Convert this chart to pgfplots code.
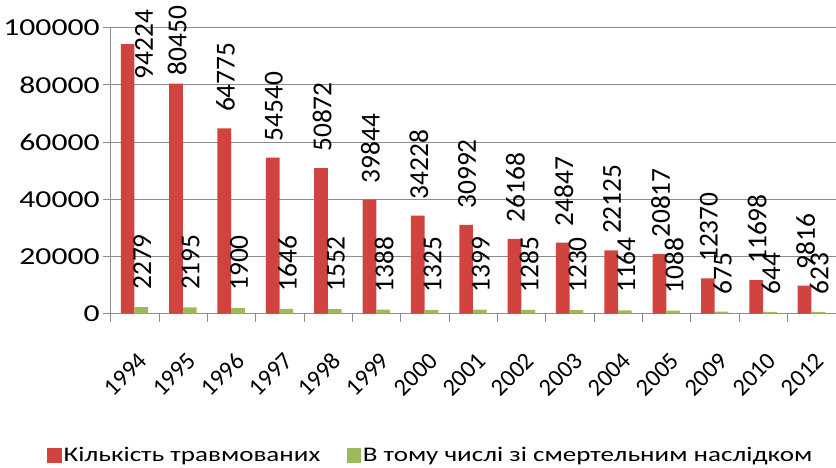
\documentclass[border=0pt]{standalone}
\usepackage{pgfplots}
\usepackage{pgfplotstable}
\pgfplotsset{compat=1.18}
\usepackage{fontspec}
\setmainfont{Carlito}
\newfontfamily\widefont{Carlito}[FakeStretch=1.3]
\definecolor{barred}{HTML}{D0433F}
\definecolor{bargreen}{HTML}{9BBB59}
\definecolor{gridgray}{HTML}{8C8C8C}
\pgfplotstableread{
x y dx dy
0 94224 16 -36
1 80450 1 7
2 64775 1 15
3 54540 1 15
4 50872 1 15
5 39844 1 15
6 34228 1 15
7 30992 1 15
8 26168 1 15
9 24847 1 15
10 22125 1 15
11 20817 1 15
12 12370 1 15
13 11698 1 15
14 9816 1 15
}\injured
\pgfplotstableread{
x y dx dy
0 2279 1 16
1 2195 1 16
2 1900 1 16
3 1646 1 16
4 1552 1 16
5 1388 1 16
6 1325 1 16
7 1399 1 16
8 1285 1 16
9 1230 1 16
10 1164 1 16
11 1088 1 16
12 675 1 16
13 644 1 16
14 623 1 16
}\fatal
\begin{document}
\begin{tikzpicture}
\begin{axis}[
  scale only axis,
  width=715pt, height=282pt,
  title={\strut},
  title style={at={(0.5,1)}, anchor=south, yshift=0pt, minimum height=21pt, inner sep=0pt, text opacity=0},
  /pgf/number format/fixed,
  /pgf/number format/1000 sep={},
  /pgf/number format/assume math mode=true,
  ybar=0pt, bar width=13.5pt,
  xmin=-0.5, xmax=14.5,
  ymin=0, ymax=100000,
  ytick={0,20000,40000,60000,80000,100000},
  scaled y ticks=false,
  yticklabel style={font=\widefont\fontsize{24}{26}\selectfont, text=black},
  xtick={0,...,14},
  xticklabels={1994,1995,1996,1997,1998,1999,2000,2001,2002,2003,2004,2005,2009,2010,2012},
  xticklabel style={font=\fontsize{24}{26}\selectfont, text=black, xshift=3pt, yshift=-25pt, rotate=45, anchor=north east},
  major x tick style={draw=none},
  minor xtick={-0.5,0.5,...,14.5},
  minor x tick style={draw=gridgray},
  y tick style={draw=gridgray, line width=0.8pt},
  minor tick length=8pt,
  major tick length=7pt,
  tick align=outside,
  xtick pos=bottom, ytick pos=left,
  ymajorgrids, grid style={gridgray, line width=0.8pt},
  axis x line*=bottom, axis y line*=left,
  axis line style={gridgray, line width=0.8pt},
  clip=false,
  legend columns=2,
  legend style={at={(0.442,-0.496)}, anchor=center, draw=none, fill=none, font=\widefont\fontsize{20.5}{22}\selectfont, /tikz/every even column/.append style={column sep=24pt}},
  legend image code/.code={\fill[#1] (0pt,-7pt) rectangle (14pt,7pt);},
]
\addplot[fill=barred, draw=none,
  visualization depends on={\thisrow{dx} \as \lblx},
  visualization depends on={\thisrow{dy} \as \lbly},
  nodes near coords,
  nodes near coords style={font=\fontsize{27}{29}\selectfont, text=black, inner sep=1pt},
  every node near coord/.append style={xshift=\lblx pt, yshift=\lbly pt, rotate=90, anchor=west}]
  table[x=x, y=y] {\injured};
\addplot[fill=bargreen, draw=none,
  visualization depends on={\thisrow{dx} \as \lblx},
  visualization depends on={\thisrow{dy} \as \lbly},
  nodes near coords,
  nodes near coords style={font=\fontsize{27}{29}\selectfont, text=black, inner sep=1pt},
  every node near coord/.append style={xshift=\lblx pt, yshift=\lbly pt, rotate=90, anchor=west}]
  table[x=x, y=y] {\fatal};
\legend{Кількість травмованих, В тому числі зі смертельним наслідком}
\end{axis}
\end{tikzpicture}
\end{document}
